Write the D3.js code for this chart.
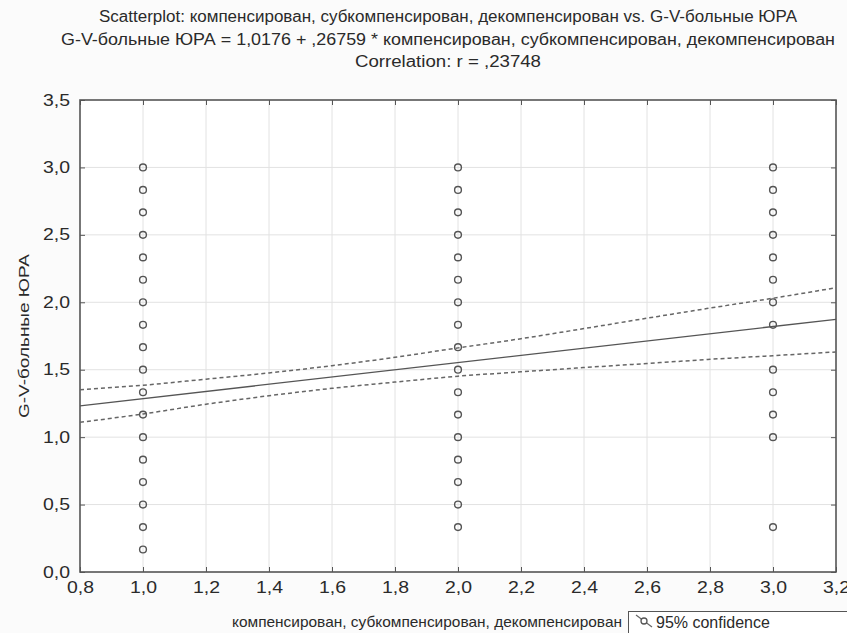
<!DOCTYPE html>
<html>
<head>
<meta charset="utf-8">
<script src="https://cdn.jsdelivr.net/npm/d3@7"></script>
<style>
  html, body { margin: 0; padding: 0; background: #fbfbfb; }
  svg { display: block; }
  text { font-family: "Liberation Sans", Arial, sans-serif; fill: #2a2a2a; }
</style>
</head>
<body>
<svg id="chart" width="847" height="633"></svg>
<script>
// ---- Data ----
const titleLines = [
  "Scatterplot: компенсирован, субкомпенсирован, декомпенсирован vs. G-V-больные ЮРА",
  "G-V-больные ЮРА = 1,0176 + ,26759 * компенсирован, субкомпенсирован, декомпенсирован",
  "Correlation: r = ,23748"
];
const xLabel = "компенсирован, субкомпенсирован, декомпенсирован";
const yLabel = "G-V-больные ЮРА";
const legendLabel = "95% confidence";

const xTicks = [0.8, 1.0, 1.2, 1.4, 1.6, 1.8, 2.0, 2.2, 2.4, 2.6, 2.8, 3.0, 3.2];
const yTicks = [0.0, 0.5, 1.0, 1.5, 2.0, 2.5, 3.0, 3.5];

// Scatter points per group (x = 1, 2, 3)
const group1Y = [0.167, 0.333, 0.5, 0.667, 0.833, 1.0, 1.167, 1.333, 1.5, 1.667, 1.833, 2.0, 2.167, 2.333, 2.5, 2.667, 2.833, 3.0];
const group2Y = [0.333, 0.5, 0.667, 0.833, 1.0, 1.167, 1.333, 1.5, 1.667, 1.833, 2.0, 2.167, 2.333, 2.5, 2.667, 2.833, 3.0];
const group3Y = [0.333, 1.0, 1.167, 1.333, 1.5, 1.833, 2.0, 2.167, 2.333, 2.5, 2.667, 2.833, 3.0];

// Regression line coefficients (from the title)
const intercept = 1.0176;
const slope = 0.26759;

// 95% confidence band
const bandX     = [0.8,   1.0,   1.2,   1.4,   1.6,   1.8,   2.0,   2.2,   2.4,   2.6,   2.8,   3.0,   3.2];
const bandUpper = [1.352, 1.385, 1.430, 1.476, 1.530, 1.592, 1.662, 1.730, 1.805, 1.882, 1.957, 2.030, 2.108];
const bandLower = [1.110, 1.172, 1.244, 1.307, 1.362, 1.408, 1.452, 1.484, 1.516, 1.546, 1.577, 1.604, 1.632];

// ---- Drawing ----
const svg = d3.select("#chart");
const plot = { left: 80, right: 836, top: 100, bottom: 572 };

const x = d3.scaleLinear().domain([0.8, 3.2]).range([plot.left, plot.right]);
const y = d3.scaleLinear().domain([0, 3.5]).range([plot.bottom, plot.top]);
const fmt = v => d3.format(".1f")(v).replace(".", ",");

const axisColor = "#555";
const gridColor = "#e2e2e2";
const markColor = "#555";

// plot background
svg.append("rect")
  .attr("x", plot.left).attr("y", plot.top)
  .attr("width", plot.right - plot.left).attr("height", plot.bottom - plot.top)
  .attr("fill", "#fff");

// grid
svg.append("g").selectAll("line").data(xTicks.slice(1, -1)).join("line")
  .attr("x1", d => x(d)).attr("x2", d => x(d))
  .attr("y1", plot.top).attr("y2", plot.bottom)
  .attr("stroke", gridColor).attr("stroke-width", 1);
svg.append("g").selectAll("line").data(yTicks.slice(1, -1)).join("line")
  .attr("y1", d => y(d)).attr("y2", d => y(d))
  .attr("x1", plot.left).attr("x2", plot.right)
  .attr("stroke", gridColor).attr("stroke-width", 1);

// axes with inward ticks (all four sides)
const tickLen = 5;
const styleAxis = g => {
  g.attr("font-size", null).attr("font-family", null);
  g.select(".domain").remove();
  g.selectAll(".tick line").attr("stroke", axisColor).attr("stroke-width", 1);
  g.selectAll(".tick text").attr("fill", "#333")
    .style("font-size", "16px")
    .attr("textLength", 27).attr("lengthAdjust", "spacingAndGlyphs");
};

svg.append("g").attr("transform", `translate(0,${plot.bottom})`)
  .call(d3.axisBottom(x).tickValues(xTicks).tickFormat(fmt).tickSizeInner(-tickLen).tickSizeOuter(0).tickPadding(10))
  .call(styleAxis);
svg.append("g").attr("transform", `translate(0,${plot.top})`)
  .call(d3.axisTop(x).tickValues(xTicks).tickFormat("").tickSizeInner(-tickLen).tickSizeOuter(0))
  .call(styleAxis);
svg.append("g").attr("transform", `translate(${plot.left},0)`)
  .call(d3.axisLeft(y).tickValues(yTicks).tickFormat(fmt).tickSizeInner(-tickLen).tickSizeOuter(0).tickPadding(10))
  .call(styleAxis);
svg.append("g").attr("transform", `translate(${plot.right},0)`)
  .call(d3.axisRight(y).tickValues(yTicks).tickFormat("").tickSizeInner(-tickLen).tickSizeOuter(0))
  .call(styleAxis);

// frame
svg.append("rect")
  .attr("x", plot.left).attr("y", plot.top)
  .attr("width", plot.right - plot.left).attr("height", plot.bottom - plot.top)
  .attr("fill", "none").attr("stroke", axisColor).attr("stroke-width", 1.6);

// clip for lines
svg.append("clipPath").attr("id", "plotclip").append("rect")
  .attr("x", plot.left).attr("y", plot.top)
  .attr("width", plot.right - plot.left).attr("height", plot.bottom - plot.top);

const lines = svg.append("g").attr("clip-path", "url(#plotclip)");

// confidence bands
const bandLine = arr => d3.line().curve(d3.curveMonotoneX)
  .x((d, i) => x(bandX[i])).y(d => y(d))(arr);
[bandUpper, bandLower].forEach(arr => {
  lines.append("path").attr("d", bandLine(arr))
    .attr("fill", "none").attr("stroke", "#666")
    .attr("stroke-width", 1.5).attr("stroke-dasharray", "4,3");
});

// regression line
const xd = x.domain();
lines.append("line")
  .attr("x1", x(xd[0])).attr("y1", y(intercept + slope * xd[0]))
  .attr("x2", x(xd[1])).attr("y2", y(intercept + slope * xd[1]))
  .attr("stroke", "#555").attr("stroke-width", 1.3);

// scatter points
const points = [];
group1Y.forEach(v => points.push([1, v]));
group2Y.forEach(v => points.push([2, v]));
group3Y.forEach(v => points.push([3, v]));
svg.append("g").selectAll("circle").data(points).join("circle")
  .attr("cx", d => x(d[0])).attr("cy", d => y(d[1]))
  .attr("r", 3.4)
  .attr("fill", "none").attr("stroke", markColor).attr("stroke-width", 1.4);

// titles
const titleY = [22, 45, 67];
const titleWidths = [698, 774, 186];
titleLines.forEach((t, i) => {
  svg.append("text")
    .attr("x", 448).attr("y", titleY[i])
    .attr("text-anchor", "middle")
    .attr("textLength", titleWidths[i])
    .attr("lengthAdjust", "spacingAndGlyphs")
    .style("font-size", "16px")
    .text(t);
});

// axis titles
svg.append("text")
  .attr("x", 427).attr("y", 627)
  .attr("text-anchor", "middle")
  .attr("textLength", 390).attr("lengthAdjust", "spacingAndGlyphs")
  .style("font-size", "15px")
  .text(xLabel);

svg.append("text")
  .attr("transform", `translate(29,${(plot.top + plot.bottom) / 2}) rotate(-90)`)
  .attr("text-anchor", "middle")
  .attr("textLength", 164).attr("lengthAdjust", "spacingAndGlyphs")
  .style("font-size", "15px")
  .text(yLabel);

// legend
const lg = svg.append("g");
lg.append("rect").attr("x", 628.5).attr("y", 611.5).attr("width", 240).attr("height", 30)
  .attr("fill", "#fff").attr("stroke", "#555").attr("stroke-width", 1);
lg.append("line").attr("x1", 636).attr("y1", 615).attr("x2", 652).attr("y2", 627)
  .attr("stroke", "#666").attr("stroke-width", 1.2);
lg.append("circle").attr("cx", 644).attr("cy", 621).attr("r", 3)
  .attr("fill", "#fff").attr("stroke", "#555").attr("stroke-width", 1.3);
lg.append("text").attr("x", 656).attr("y", 628)
  .style("font-size", "16px")
  .text(legendLabel);
</script>
</body>
</html>
